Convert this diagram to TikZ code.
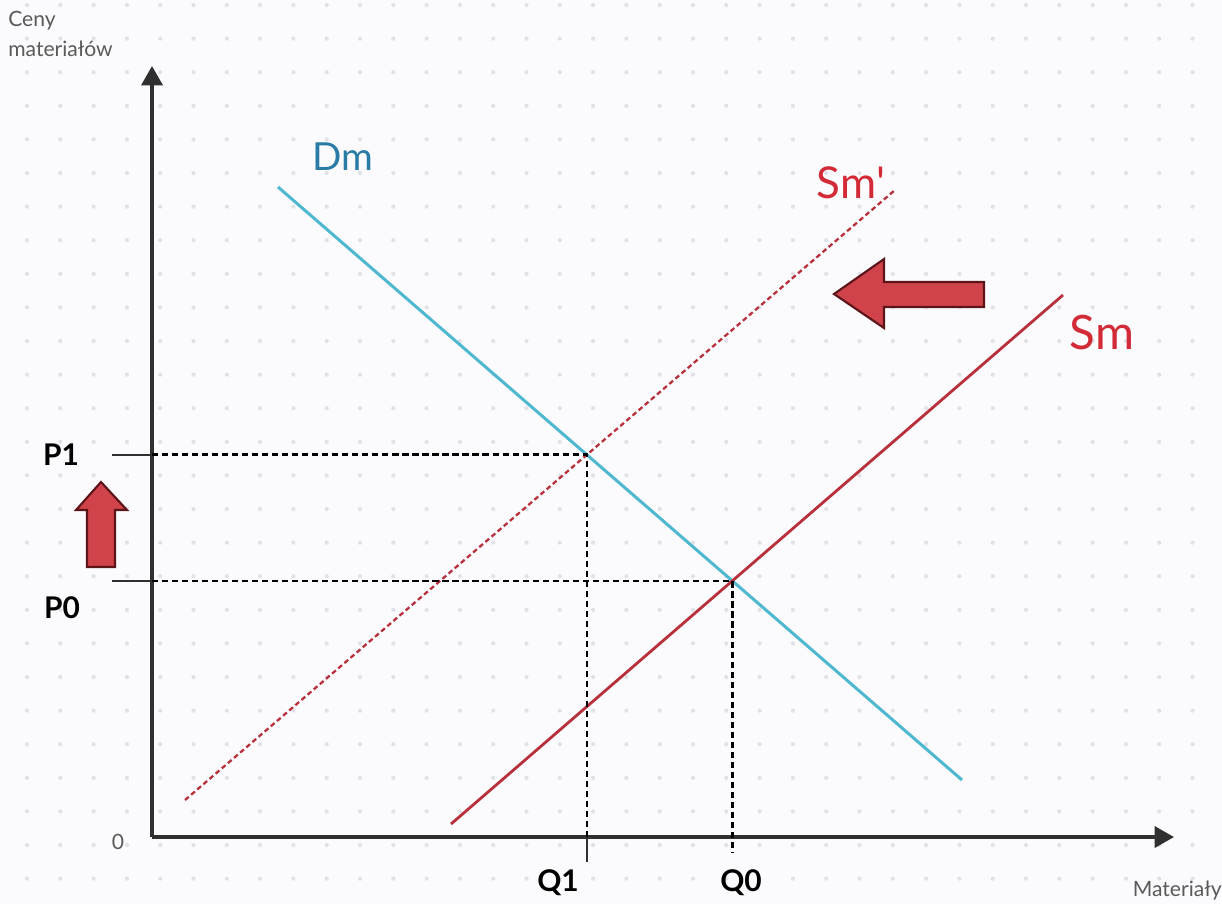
\documentclass[tikz,border=0pt]{standalone}
\usepackage{fontspec}
\setmainfont{Lato}
\usetikzlibrary{arrows.meta,intersections}
\definecolor{paper}{HTML}{FBFBFD}
\definecolor{bgdot}{HTML}{E0E2E8}
\definecolor{axisgray}{HTML}{303030}
\definecolor{labgray}{HTML}{5A5A5A}
\definecolor{dmcyan}{HTML}{4DB8CF}
\definecolor{dmtext}{HTML}{2A7BA6}
\definecolor{smred}{HTML}{B8303C}
\definecolor{smtext}{HTML}{D22A36}
\definecolor{arrowfill}{HTML}{D0434B}
\definecolor{arrowedge}{HTML}{5C1418}

\begin{document}
\begin{tikzpicture}[x=0.02cm, y=-0.02cm,
    axisline/.style={line width=1.8pt, draw=axisgray, -{Triangle[length=11pt,width=12pt]}},
    tickline/.style={line width=1.4pt, draw=axisgray},
    guide/.style={line width=1.5pt, draw=black, dash pattern=on 3.5pt off 2.2pt},
    demand/.style={line width=1.7pt, draw=dmcyan},
    supply/.style={line width=1.6pt, draw=smred},
    shifted/.style={line width=1.3pt, draw=smred, dash pattern=on 2.8pt off 1.8pt},
    shiftarrow/.style={fill=arrowfill, draw=arrowedge, line width=1.2pt, line join=miter},
    axlabel/.style={text=labgray, font=\fontsize{12}{17}\selectfont, align=left, inner sep=0pt},
    pqlabel/.style={font=\fontsize{17}{19}\selectfont\bfseries, inner sep=0pt},
    curvelabel/.style={inner sep=0pt}]
  % page and dotted grid
  \fill[paper] (0,0) rectangle (1222,904);
  \useasboundingbox (0,0) rectangle (1222,904);
  \foreach \gx in {0,...,36}{
    \foreach \gy in {0,...,26}{
      \fill[bgdot] (27+\gx*33.3, 5+\gy*33.6) circle (1.2pt);
    }
  }

  % axes
  \coordinate (O) at (152,837);
  \coordinate (ytop) at (152,66);
  \coordinate (xend) at (1174,837);
  \coordinate (ptick) at (112,0);
  \coordinate (qtick) at (0,862);
  \coordinate (qlow) at (0,853);
  \draw[axisline] (O) -- (ytop);
  \draw[axisline] (O) -- (xend);
  \node[axlabel, anchor=north west] (ylab) at (8,11) {Ceny\\materiałów};
  \node[axlabel, anchor=east] (xlab) at (1222,891) {Materiały};
  \node[text=labgray, font=\fontsize{12}{14}\selectfont, inner sep=0pt] (zero) at (118,842) {0};

  % curves
  \coordinate (dmA) at (278,187);
  \coordinate (dmB) at (962,780);
  \coordinate (smA) at (451,824);
  \coordinate (smB) at (1063,295);
  \coordinate (smpA) at (185,800);
  \coordinate (smpB) at (895,190);
  \draw[demand, name path=dm] (dmA) -- (dmB);
  \draw[supply, name path=sm] (smA) -- (smB);
  \draw[shifted, name path=smp] (smpA) -- (smpB);
  \path[name intersections={of=dm and sm, by=E0}];
  \path[name intersections={of=dm and smp, by=E1}];

  \node[curvelabel, text=dmtext, font=\fontsize{22}{24}\selectfont] (dmlab) at (343,157) {Dm};
  \node[curvelabel, text=smtext, font=\fontsize{25}{27}\selectfont] (smplab) at (851,183) {Sm\textquotesingle};
  \node[curvelabel, text=smtext, font=\fontsize{27}{29}\selectfont] (smlab) at (1102,332) {Sm};

  % equilibrium guides
  \draw[guide] (E1 -| O) -- (E1) -- (E1 |- O);
  \draw[guide] (E0 -| O) -- (E0) -- (E0 |- qlow);
  \draw[tickline] (E1 -| ptick) -- (E1 -| O);
  \draw[tickline] (E0 -| ptick) -- (E0 -| O);
  \draw[tickline] (E1 |- O) -- (E1 |- qtick);

  \node[pqlabel] (p1) at (61,455) {P1};
  \node[pqlabel] (p0) at (62,608) {P0};
  \node[pqlabel] (q1) at (558,883) {Q1};
  \node[pqlabel] (q0) at (741,883) {Q0};

  % shift arrows
  \filldraw[shiftarrow] (834,294) -- (884,259) -- (884,282) -- (984,282)
    -- (984,307) -- (884,307) -- (884,328) -- cycle;
  \filldraw[shiftarrow] (101,482) -- (127,510) -- (115,510) -- (115,567)
    -- (87,567) -- (87,510) -- (76,510) -- cycle;
\end{tikzpicture}
\end{document}
